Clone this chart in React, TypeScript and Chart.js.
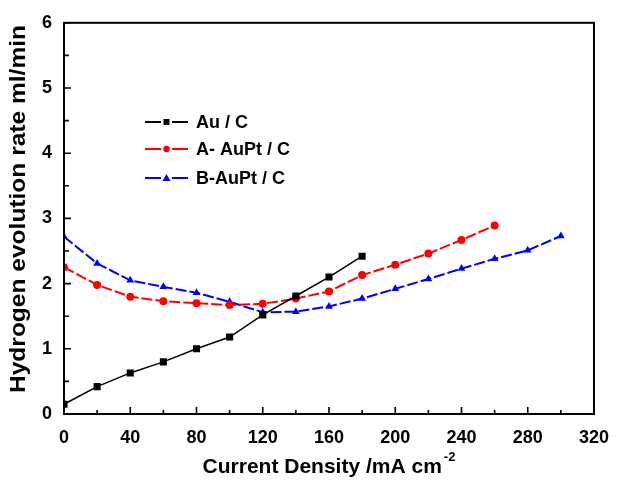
import React, { useEffect, useRef } from "react";
import { Chart, registerables } from "chart.js";

Chart.register(...registerables);

// Current density (mA cm^-2) sampled every 20
const CURRENT = [0, 20, 40, 60, 80, 100, 120, 140, 160, 180, 200, 220, 240, 260, 280, 300];
const X_TICKS = [0, 40, 80, 120, 160, 200, 240, 280, 320];
const Y_TICKS = [0, 1, 2, 3, 4, 5, 6];

const AU_C = [0.15, 0.42, 0.63, 0.8, 1.0, 1.18, 1.52, 1.81, 2.1, 2.42];
const A_AUPT_C = [2.25, 1.98, 1.8, 1.73, 1.7, 1.67, 1.69, 1.77, 1.88, 2.13, 2.29, 2.46, 2.67, 2.89];
const B_AUPT_C = [2.72, 2.31, 2.05, 1.95, 1.86, 1.72, 1.56, 1.57, 1.65, 1.77, 1.92, 2.07, 2.23, 2.38, 2.51, 2.73];

const SERIES_NAMES = ["Au / C", "A- AuPt / C", "B-AuPt / C"];
const SERIES_COLORS = ["#000000", "#ff0000", "#0000ff"];
const SERIES_MARKERS = ["rect", "circle", "triangle"];

const X_TITLE = "Current Density /mA cm";
const X_TITLE_SUP = "-2";
const Y_TITLE = "Hydrogen evolution rate ml/min";

const FONT = "'Liberation Sans', Arial, sans-serif";

const toPoints = (vals: number[]) => vals.map((v, i) => ({ x: CURRENT[i], y: v }));

const framePlugin = {
  id: "framePlugin",
  afterDraw(chart: any) {
    const { ctx, chartArea, scales } = chart;
    const xs = scales.x;
    const ys = scales.y;
    ctx.save();
    ctx.strokeStyle = "#000";
    ctx.lineWidth = 2;
    ctx.strokeRect(chartArea.left, chartArea.top, chartArea.right - chartArea.left, chartArea.bottom - chartArea.top);

    // inward ticks
    ctx.lineWidth = 1.6;
    ctx.beginPath();
    for (let v = 0; v <= 320; v += 20) {
      const px = xs.getPixelForValue(v);
      const len = v % 40 === 0 ? 7 : 4;
      ctx.moveTo(px, chartArea.bottom);
      ctx.lineTo(px, chartArea.bottom - len);
    }
    for (let v = 0; v <= 6; v += 0.5) {
      const py = ys.getPixelForValue(v);
      const len = Number.isInteger(v) ? 7 : 5;
      ctx.moveTo(chartArea.left, py);
      ctx.lineTo(chartArea.left + len, py);
    }
    ctx.stroke();

    // x title with superscript
    ctx.fillStyle = "#000";
    ctx.textBaseline = "alphabetic";
    ctx.font = `bold 21px ${FONT}`;
    const mainW = ctx.measureText(X_TITLE).width;
    ctx.font = `bold 13px ${FONT}`;
    const supW = ctx.measureText(X_TITLE_SUP).width;
    const cx = (chartArea.left + chartArea.right) / 2;
    const startX = cx - (mainW + supW + 2) / 2;
    ctx.font = `bold 21px ${FONT}`;
    ctx.textAlign = "left";
    ctx.fillText(X_TITLE, startX, 473);
    ctx.font = `bold 13px ${FONT}`;
    ctx.fillText(X_TITLE_SUP, startX + mainW + 2, 461);

    // y title
    ctx.save();
    ctx.translate(25, 209);
    ctx.rotate(-Math.PI / 2);
    ctx.font = `bold 22px ${FONT}`;
    ctx.textAlign = "center";
    const yw = ctx.measureText(Y_TITLE).width;
    ctx.scale(368 / yw, 1);
    ctx.fillText(Y_TITLE, 0, 0);
    ctx.restore();

    // legend
    const rows = [122, 149, 178];
    chart.data.datasets.forEach((ds: any, i: number) => {
      const y = rows[i];
      ctx.save();
      ctx.strokeStyle = ds.borderColor;
      ctx.lineWidth = 2;
      ctx.beginPath();
      ctx.moveTo(145, y);
      ctx.lineTo(161, y);
      ctx.moveTo(172, y);
      ctx.lineTo(188, y);
      ctx.stroke();
      ctx.fillStyle = ds.borderColor;
      ctx.beginPath();
      if (ds.pointStyle === "rect") {
        ctx.rect(166.5 - 3, y - 3, 6, 6);
      } else if (ds.pointStyle === "circle") {
        ctx.arc(166.5, y, 3.2, 0, Math.PI * 2);
      } else {
        ctx.moveTo(166.5, y - 4);
        ctx.lineTo(170.5, y + 3);
        ctx.lineTo(162.5, y + 3);
        ctx.closePath();
      }
      ctx.fill();
      ctx.fillStyle = "#000";
      ctx.font = `bold 18px ${FONT}`;
      ctx.textAlign = "left";
      ctx.textBaseline = "middle";
      ctx.fillText(SERIES_NAMES[i], 196, y + 1);
      ctx.restore();
    });
    ctx.restore();
  },
};

export default function App() {
  const ref = useRef<HTMLCanvasElement | null>(null);
  useEffect(() => {
    if (!ref.current) return;
    const seriesVals = [AU_C, A_AUPT_C, B_AUPT_C];
    const chart = new Chart(ref.current, {
      type: "scatter",
      data: {
        datasets: seriesVals.map((vals, i) => ({
          label: SERIES_NAMES[i],
          data: toPoints(vals),
          showLine: true,
          borderColor: SERIES_COLORS[i],
          backgroundColor: SERIES_COLORS[i],
          borderWidth: i === 0 ? 1.5 : 2,
          borderDash: i === 0 ? [] : [11, 3],
          pointStyle: SERIES_MARKERS[i] as any,
          pointRadius: i === 0 ? 5 : i === 1 ? 4 : 4.5,
          pointBorderWidth: 0,
          pointHoverRadius: 4,
        })),
      },
      options: {
        responsive: false,
        animation: false,
        events: [],
        layout: { padding: { top: 15, right: 20, left: 0, bottom: 0 } },
        plugins: {
          legend: { display: false },
          tooltip: { enabled: false },
        },
        scales: {
          x: {
            type: "linear",
            min: 0,
            max: 320,
            afterBuildTicks: (s: any) => {
              s.ticks = X_TICKS.map((v) => ({ value: v }));
            },
            afterFit: (s: any) => {
              s.height = 71;
            },
            grid: { display: false, drawTicks: false },
            border: { display: false },
            ticks: {
              color: "#000",
              padding: 13,
              maxRotation: 0,
              font: { family: FONT, size: 18, weight: "bold" },
            },
          },
          y: {
            type: "linear",
            min: 0,
            max: 6,
            afterBuildTicks: (s: any) => {
              s.ticks = Y_TICKS.map((v) => ({ value: v }));
            },
            afterFit: (s: any) => {
              s.width = 64;
            },
            grid: { display: false, drawTicks: false },
            border: { display: false },
            ticks: {
              color: "#000",
              padding: 12,
              font: { family: FONT, size: 18, weight: "bold" },
            },
          },
        },
      },
      plugins: [framePlugin],
    });
    return () => chart.destroy();
  }, []);
  return (
    <div style={{ position: "fixed", left: 0, top: 0, width: 622, height: 485, background: "#fff" }}>
      <canvas ref={ref} width={622} height={485} style={{ width: 622, height: 485 }} />
    </div>
  );
}
